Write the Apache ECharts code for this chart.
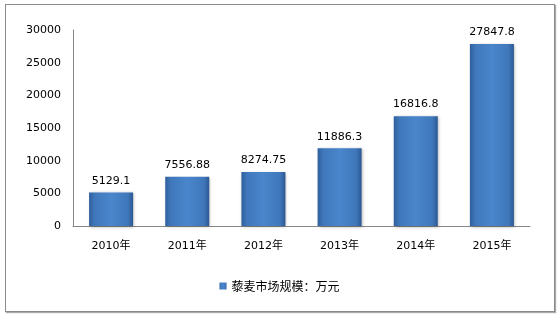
<!DOCTYPE html>
<html><head><meta charset="utf-8">
<script src="https://cdn.jsdelivr.net/npm/echarts@6/dist/echarts.min.js"></script>
<style>html,body{margin:0;padding:0;background:#fff}#c{width:559px;height:316px}
#frame{position:absolute;left:5px;top:4px;width:548px;height:306px;border:1px solid #8a8a8a;box-shadow:1px 1px 1px #aaa;pointer-events:none}</style>
</head><body><div id="c"></div><div id="frame"></div>
<script>
const categories = ['2010年','2011年','2012年','2013年','2014年','2015年'];
const values = [5129.1, 7556.88, 8274.75, 11886.3, 16816.8, 27847.8];
const valueLabels = ['5129.1','7556.88','8274.75','11886.3','16816.8','27847.8'];
const seriesName = '藜麦市场规模：万元';
const yTicks = [0, 5000, 10000, 15000, 20000, 25000, 30000];

const chart = echarts.init(document.getElementById('c'));
const grad = new echarts.graphic.LinearGradient(0,0,1,0,[
  {offset:0,color:'#2f5f9c'},{offset:0.12,color:'#3f77ba'},{offset:0.5,color:'#4a86cc'},{offset:0.88,color:'#3f77ba'},{offset:1,color:'#2c5893'}]);
chart.setOption({
  animation:false,
  textStyle:{fontFamily:'DejaVu Sans, "Noto Sans CJK SC"'},
  grid:{left:73,right:29,top:30,bottom:90},
  legend:{bottom:19,left:'center',itemWidth:7,itemHeight:7,itemGap:4,
    textStyle:{fontSize:12,color:'#000',fontFamily:'"Noto Sans CJK SC", DejaVu Sans'},
    data:[{name:seriesName,icon:'rect'}]},
  xAxis:{type:'category',data:categories,
    axisLine:{lineStyle:{color:'#868686',width:1}},axisTick:{show:false},
    axisLabel:{color:'#000',fontSize:11,margin:15}},
  yAxis:{type:'value',min:yTicks[0],max:yTicks[yTicks.length-1],interval:5000,
    axisLine:{show:true,lineStyle:{color:'#868686',width:1}},axisTick:{show:false},
    splitLine:{show:false},
    axisLabel:{color:'#000',fontSize:11,margin:12,formatter:v=>String(v)}},
  series:[{name:seriesName,type:'bar',data:values,barWidth:44,
    itemStyle:{color:grad,shadowColor:'rgba(0,0,0,0.3)',shadowBlur:3,shadowOffsetX:1,shadowOffsetY:1},
    label:{show:true,position:'top',distance:6,color:'#000',fontSize:11,
      formatter:p=>valueLabels[p.dataIndex]}}]
});
</script></body></html>
